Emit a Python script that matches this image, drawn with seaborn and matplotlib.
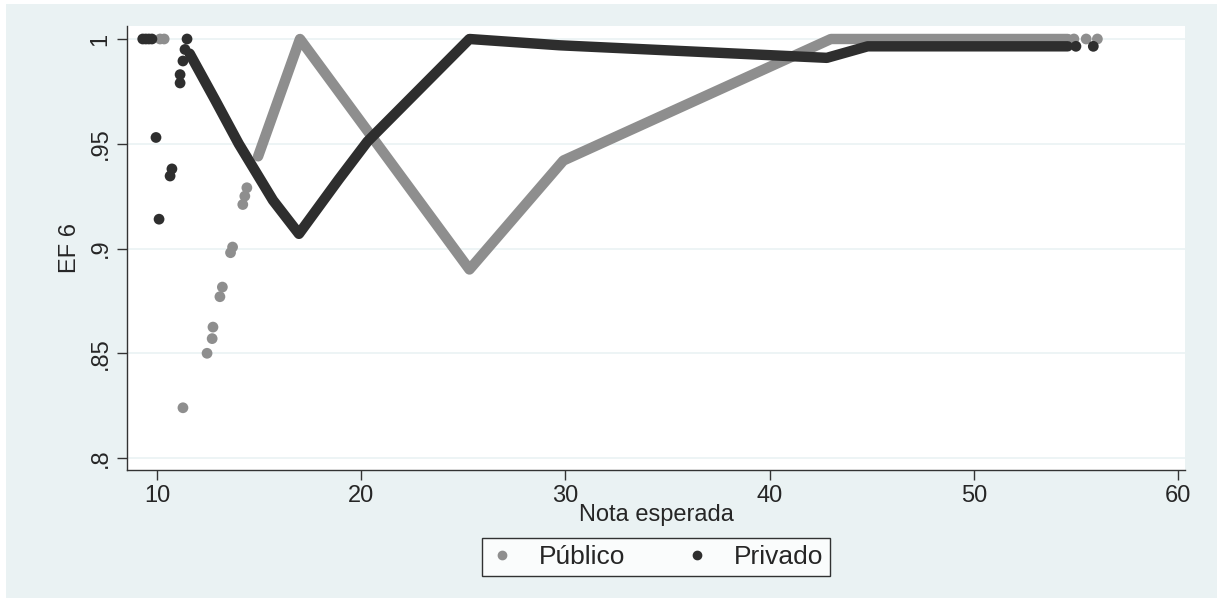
import numpy as np
import pandas as pd
import matplotlib
matplotlib.use("Agg")
import matplotlib.pyplot as plt
import seaborn as sns
from matplotlib.lines import Line2D
from matplotlib.patches import Rectangle

# isolated points (Público)
pub_pts_x = [10.15, 10.35, 11.27, 12.45, 12.7, 12.74, 13.08, 13.2, 13.6, 13.7, 14.2, 14.3, 14.4, 54.9, 55.5, 56.05]
pub_pts_y = [1.0, 1.0, 0.824, 0.850, 0.857, 0.8625, 0.877, 0.8816, 0.898, 0.9007, 0.921, 0.925, 0.929, 1.0, 1.0, 1.0]
# dense run of points (Público), drawn as a thick line
pub_line_x = [14.95, 17.0, 25.3, 29.9, 43.0, 54.6]
pub_line_y = [0.944, 1.0, 0.890, 0.942, 1.0, 1.0]

# isolated points (Privado)
priv_pts_x = [9.3, 9.45, 9.6, 9.75, 9.95, 10.1, 10.64, 10.73, 11.13, 11.13, 11.27, 11.37, 11.47, 55.0, 55.85]
priv_pts_y = [1.0, 1.0, 1.0, 1.0, 0.953, 0.914, 0.9346, 0.938, 0.979, 0.983, 0.9895, 0.995, 1.0, 0.9965, 0.9965]
# dense run of points (Privado)
priv_line_x = [11.6, 12.84, 14.0, 15.68, 16.95, 18.9, 20.3, 25.3, 29.7, 42.8, 44.8, 54.6]
priv_line_y = [0.993, 0.971, 0.950, 0.923, 0.907, 0.933, 0.951, 1.0, 0.997, 0.991, 0.9965, 0.9965]

x_ticks = [10, 20, 30, 40, 50, 60]
y_ticks = [0.8, 0.85, 0.9, 0.95, 1.0]
y_tick_labels = [".8", ".85", ".9", ".95", "1"]

gray = "#8e8e8e"
dark = "#2e2e2e"
bg = "#eaf2f3"

sns.set_style("white")
plt.rcParams['font.family'] = ['Liberation Sans', 'DejaVu Sans']

pts = pd.DataFrame({
    "x": pub_pts_x + priv_pts_x,
    "y": pub_pts_y + priv_pts_y,
    "grupo": ["Público"] * len(pub_pts_x) + ["Privado"] * len(priv_pts_x),
})
lines = pd.DataFrame({
    "x": pub_line_x + priv_line_x,
    "y": pub_line_y + priv_line_y,
    "grupo": ["Público"] * len(pub_line_x) + ["Privado"] * len(priv_line_x),
})
pal = {"Público": gray, "Privado": dark}

fig = plt.figure(figsize=(12.17, 5.98), dpi=100)
fig.patch.set_facecolor("white")
fig.patches.append(Rectangle((6 / 1217, 0), 1, 1 - 4 / 598, transform=fig.transFigure,
                             facecolor=bg, edgecolor="none", zorder=-10))
ax = fig.add_axes([127 / 1217, 1 - 470 / 598, (1185 - 127) / 1217, (470 - 26) / 598])
ax.set_facecolor("white")

for g in ["Público", "Privado"]:
    sub = lines[lines.grupo == g]
    sns.lineplot(data=sub, x="x", y="y", sort=False, color=pal[g], linewidth=7.5,
                 solid_joinstyle="round", solid_capstyle="round", ax=ax, legend=False)
sns.scatterplot(data=pts, x="x", y="y", hue="grupo", palette=pal, s=60,
                edgecolor="none", ax=ax, legend=False)

ax.set_xlim(8.53, 60.34)
ax.set_ylim(0.7943, 1.0062)
ax.set_xticks(x_ticks)
ax.set_yticks(y_ticks)
ax.set_yticklabels(y_tick_labels, rotation=90, va="center")
ax.yaxis.grid(True, color=bg, linewidth=1.2)
ax.set_axisbelow(True)
for s in ["top", "right"]:
    ax.spines[s].set_visible(False)
for s in ["left", "bottom"]:
    ax.spines[s].set_color("#333333")
    ax.spines[s].set_linewidth(1)
ax.tick_params(axis="both", direction="out", length=7, width=1, color="#333333",
               labelsize=17, pad=4, bottom=True, left=True)
ax.set_xlabel("Nota esperada", fontsize=17, labelpad=-2)
ax.set_ylabel("EF 6", fontsize=17, labelpad=6)

handles = [Line2D([], [], marker="o", linestyle="none", color=gray, markersize=6),
           Line2D([], [], marker="o", linestyle="none", color=dark, markersize=6)]
leg = fig.legend(handles, ["Público", "Privado"], loc="center", bbox_to_anchor=(0.539, 0.0686),
                 ncol=2, frameon=True, fancybox=False, fontsize=19, columnspacing=2.2,
                 handletextpad=0.9, borderpad=0.25, handlelength=1)
leg.get_frame().set_edgecolor("black")
leg.get_frame().set_linewidth(1)

fig.savefig("out.png", dpi=100, facecolor=fig.get_facecolor())
